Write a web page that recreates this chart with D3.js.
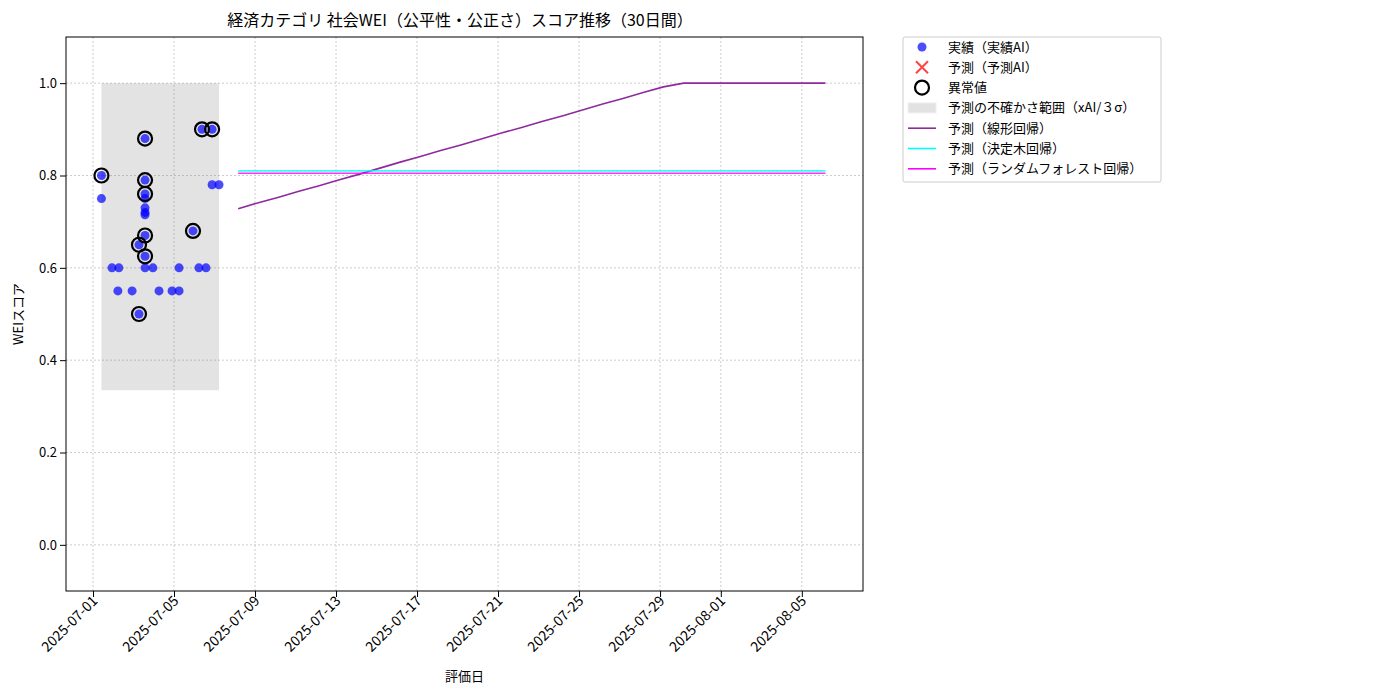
<!DOCTYPE html>
<html><head><meta charset="utf-8">
<script src="https://cdn.jsdelivr.net/npm/d3@7"></script>
<style>body{margin:0;background:#fff}text{font-family:"Noto Sans CJK JP","DejaVu Sans",sans-serif}</style>
</head><body><svg id="c" width="1400" height="700"></svg>
<script>
const actualDates=["2025-07-01T10:00","2025-07-01T10:00","2025-07-01T22:30","2025-07-02T06:40","2025-07-02T05:30","2025-07-02T22:20","2025-07-03T06:30","2025-07-03T13:40","2025-07-03T13:40","2025-07-03T13:40","2025-07-03T13:40","2025-07-03T13:40","2025-07-03T13:40","2025-07-03T13:40","2025-07-03T13:40","2025-07-03T13:40","2025-07-03T13:40","2025-07-03T06:30","2025-07-03T23:00","2025-07-04T06:15","2025-07-04T21:40","2025-07-05T06:00","2025-07-05T06:00","2025-07-05T22:30","2025-07-06T05:30","2025-07-06T13:55","2025-07-06T09:10","2025-07-06T21:10","2025-07-06T21:10","2025-07-07T05:20"];
const actualValues=[0.80,0.75,0.60,0.60,0.55,0.55,0.50,0.88,0.79,0.76,0.75,0.73,0.72,0.715,0.67,0.625,0.60,0.65,0.60,0.55,0.55,0.55,0.60,0.68,0.60,0.60,0.90,0.90,0.78,0.78];
const outlierIdx=[0,6,7,8,9,14,15,17,23,26,27];
const bandStart="2025-07-01T10:00", bandEnd="2025-07-07T05:20", bandLow=0.335, bandHigh=1.0;
const predDates=["2025-07-08T04:00","2025-07-09T04:00","2025-07-10T04:00","2025-07-11T04:00","2025-07-12T04:00","2025-07-13T04:00","2025-07-14T04:00","2025-07-15T04:00","2025-07-16T04:00","2025-07-17T04:00","2025-07-18T04:00","2025-07-19T04:00","2025-07-20T04:00","2025-07-21T04:00","2025-07-22T04:00","2025-07-23T04:00","2025-07-24T04:00","2025-07-25T04:00","2025-07-26T04:00","2025-07-27T04:00","2025-07-28T04:00","2025-07-29T04:00","2025-07-30T04:00","2025-07-31T04:00","2025-08-01T04:00","2025-08-02T04:00","2025-08-03T04:00","2025-08-04T04:00","2025-08-05T04:00","2025-08-06T04:00"];
const linearValues=[0.728,0.741,0.753,0.766,0.778,0.791,0.803,0.816,0.829,0.841,0.854,0.866,0.879,0.892,0.904,0.917,0.929,0.942,0.955,0.967,0.980,0.992,1.0,1.0,1.0,1.0,1.0,1.0,1.0,1.0];
const treeValues=[0.81,0.81,0.81,0.81,0.81,0.81,0.81,0.81,0.81,0.81,0.81,0.81,0.81,0.81,0.81,0.81,0.81,0.81,0.81,0.81,0.81,0.81,0.81,0.81,0.81,0.81,0.81,0.81,0.81,0.81];
const rfValues=[0.805,0.805,0.805,0.805,0.805,0.805,0.805,0.805,0.805,0.805,0.805,0.805,0.805,0.805,0.805,0.805,0.805,0.805,0.805,0.805,0.805,0.805,0.805,0.805,0.805,0.805,0.805,0.805,0.805,0.805];
const yTicks=[0,0.2,0.4,0.6,0.8,1.0];
const xTicks=["2025-07-01","2025-07-05","2025-07-09","2025-07-13","2025-07-17","2025-07-21","2025-07-25","2025-07-29","2025-08-01","2025-08-05"];

const P=d3.timeParse("%Y-%m-%dT%H:%M"), PD=d3.timeParse("%Y-%m-%d");
const svg=d3.select("#c");
const L=66,R=863,T=37,B=591;
const x=d3.scaleTime().domain([P("2025-06-29T16:00"),P("2025-08-08T00:30")]).range([L,R]);
const y=d3.scaleLinear().domain([-0.1,1.1]).range([B,T]);
const g=svg.append("g");
xTicks.forEach(t=>g.append("line").attr("x1",x(PD(t))).attr("x2",x(PD(t))).attr("y1",T).attr("y2",B).attr("stroke","#ccc").attr("stroke-dasharray","2,2"));
yTicks.forEach(t=>g.append("line").attr("x1",L).attr("x2",R).attr("y1",y(t)).attr("y2",y(t)).attr("stroke","#ccc").attr("stroke-dasharray","2,2"));
g.append("rect").attr("x",x(P(bandStart))).attr("width",x(P(bandEnd))-x(P(bandStart))).attr("y",y(bandHigh)).attr("height",y(bandLow)-y(bandHigh)).attr("fill","#808080").attr("opacity",0.22);
const ln=vals=>d3.line().x((d,i)=>x(P(predDates[i]))).y(d=>y(d))(vals);
g.append("path").attr("d",ln(linearValues)).attr("fill","none").attr("stroke","#8e2a9e").attr("stroke-width",1.6);
g.append("path").attr("d",ln(treeValues)).attr("fill","none").attr("stroke","#00ffff").attr("stroke-width",1.6).attr("opacity",0.8);
g.append("path").attr("d",ln(rfValues)).attr("fill","none").attr("stroke","#ff00ff").attr("stroke-width",1.6).attr("opacity",0.8);
actualValues.forEach((v,i)=>g.append("circle").attr("cx",x(P(actualDates[i]))).attr("cy",y(v)).attr("r",4.5).attr("fill","#0000ff").attr("opacity",0.7));
outlierIdx.forEach(i=>g.append("circle").attr("cx",x(P(actualDates[i]))).attr("cy",y(actualValues[i])).attr("r",7).attr("fill","none").attr("stroke","#000").attr("stroke-width",2.2));
g.append("rect").attr("x",L).attr("y",T).attr("width",R-L).attr("height",B-T).attr("fill","none").attr("stroke","#000");
const xa=svg.append("g").attr("transform",`translate(0,${B})`).call(d3.axisBottom(x).tickValues(xTicks.map(t=>PD(t))).tickFormat(d3.timeFormat("%Y-%m-%d")).tickSizeOuter(0));
xa.select(".domain").remove();
xa.selectAll("text").attr("font-size",14).attr("fill","#000").attr("text-anchor","end").attr("transform","rotate(-45)").attr("dx","-0.3em").attr("dy","0.15em");
const ya=svg.append("g").attr("transform",`translate(${L},0)`).call(d3.axisLeft(y).tickValues(yTicks).tickFormat(d3.format(".1f")).tickSizeOuter(0));
ya.select(".domain").remove();
ya.selectAll("text").attr("font-size",13).attr("fill","#000");
svg.append("text").attr("x",460).attr("y",26).attr("text-anchor","middle").attr("font-size",16).text("経済カテゴリ 社会WEI（公平性・公正さ）スコア推移（30日間）");
svg.append("text").attr("x",(L+R)/2).attr("y",681).attr("text-anchor","middle").attr("font-size",13).text("評価日");
svg.append("text").attr("transform",`translate(23,${(T+B)/2}) rotate(-90)`).attr("text-anchor","middle").attr("font-size",13).text("WEIスコア");
const lg=svg.append("g");
lg.append("rect").attr("x",903).attr("y",37).attr("width",258).attr("height",145).attr("fill","#fff").attr("stroke","#ccc").attr("rx",2);
const items=["実績（実績AI）","予測（予測AI）","異常値","予測の不確かさ範囲（xAI/３σ）","予測（線形回帰）","予測（決定木回帰）","予測（ランダムフォレスト回帰）"];
items.forEach((t,i)=>{const yy=47+i*20.3;
 lg.append("text").attr("x",948).attr("y",yy+4.5).attr("font-size",13).text(t);
 if(i==0)lg.append("circle").attr("cx",922).attr("cy",yy).attr("r",4.5).attr("fill","#0000ff").attr("opacity",0.7);
 if(i==1){lg.append("path").attr("d",`M916,${yy-6}L928,${yy+6}M916,${yy+6}L928,${yy-6}`).attr("stroke","#ff4444").attr("stroke-width",2);}
 if(i==2)lg.append("circle").attr("cx",922).attr("cy",yy).attr("r",7).attr("fill","none").attr("stroke","#000").attr("stroke-width",2.2);
 if(i==3)lg.append("rect").attr("x",908).attr("y",yy-5).attr("width",28).attr("height",10).attr("fill","#808080").attr("opacity",0.22).attr("stroke","#bbb");
 const cols={4:"#8e2a9e",5:"#00ffff",6:"#ff00ff"};
 if(cols[i])lg.append("line").attr("x1",908).attr("x2",936).attr("y1",yy).attr("y2",yy).attr("stroke",cols[i]).attr("stroke-width",1.6);
});
</script></body></html>
